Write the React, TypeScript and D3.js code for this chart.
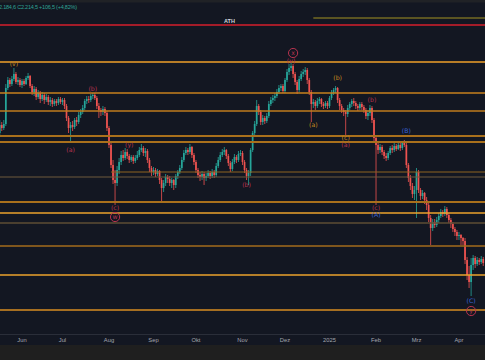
import React, { useEffect, useRef } from 'react';
import * as d3 from 'd3';

const W = 485;
const H = 360;

// daily bars [open, high, low, close], first bar Fri 2024-05-17, weekdays only
const candles: number[][] = [
  [2347,2360,2345,2355],[2355,2358,2349,2352],[2352,2360,2350,2356],[2356,2396,2354,2392],[2392,2403,2390,2400],
  [2400,2402,2393,2396],[2396,2404,2394,2401],[2401,2412,2399,2406],[2406,2408,2396,2398],[2398,2403,2395,2400],
  [2400,2402,2393,2395],[2395,2401,2392,2399],[2399,2401,2394,2396],[2396,2404,2395,2402],[2402,2407,2400,2404],
  [2404,2405,2392,2394],[2394,2396,2385,2388],[2388,2394,2384,2391],[2391,2393,2380,2383],[2383,2390,2381,2387],
  [2387,2389,2377,2381],[2381,2388,2379,2385],[2385,2387,2376,2380],[2380,2386,2378,2383],[2383,2385,2375,2378],
  [2378,2383,2374,2380],[2380,2382,2373,2376],[2376,2381,2374,2379],[2379,2381,2374,2377],[2377,2383,2375,2381],
  [2381,2383,2376,2378],[2378,2382,2375,2380],[2380,2382,2371,2374],[2374,2376,2359,2362],[2362,2364,2347,2352],
  [2352,2358,2337,2355],[2355,2359,2349,2353],[2353,2362,2351,2360],[2360,2363,2354,2358],[2358,2368,2356,2365],
  [2365,2371,2362,2368],[2368,2375,2366,2372],[2372,2381,2370,2379],[2379,2384,2376,2381],[2381,2384,2377,2380],
  [2380,2386,2378,2384],[2384,2387,2381,2385],[2385,2387,2380,2382],[2382,2384,2371,2374],[2374,2377,2362,2370],
  [2370,2372,2364,2368],[2368,2374,2365,2371],[2371,2373,2364,2367],[2367,2369,2349,2352],[2352,2354,2332,2335],
  [2335,2337,2312,2315],[2315,2320,2296,2300],[2300,2310,2275,2297],[2297,2314,2294,2310],[2310,2322,2306,2318],
  [2318,2329,2315,2325],[2325,2330,2319,2322],[2322,2332,2320,2328],[2328,2331,2321,2324],[2324,2326,2317,2320],
  [2320,2325,2318,2323],[2323,2325,2316,2319],[2319,2325,2317,2322],[2322,2329,2320,2325],[2325,2333,2323,2330],
  [2330,2336,2328,2332],[2332,2334,2324,2327],[2327,2332,2323,2329],[2329,2331,2317,2320],[2320,2322,2308,2312],
  [2312,2314,2304,2308],[2308,2313,2305,2310],[2310,2312,2303,2306],[2306,2311,2304,2309],[2309,2310,2296,2300],
  [2300,2302,2278,2292],[2292,2300,2288,2297],[2297,2306,2294,2303],[2303,2305,2297,2301],[2301,2304,2294,2297],
  [2297,2302,2292,2300],[2300,2301,2290,2295],[2295,2306,2292,2304],[2304,2310,2301,2308],[2308,2315,2306,2312],
  [2312,2323,2310,2320],[2320,2330,2318,2327],[2327,2333,2325,2330],[2330,2332,2325,2328],[2328,2336,2326,2333],
  [2333,2334,2322,2325],[2325,2327,2315,2318],[2318,2320,2307,2310],[2310,2312,2302,2305],[2305,2308,2299,2303],
  [2303,2309,2300,2306],[2306,2308,2295,2302],[2302,2307,2299,2304],[2304,2310,2302,2307],[2307,2309,2301,2304],
  [2304,2311,2302,2308],[2308,2310,2302,2305],[2305,2317,2303,2314],[2314,2323,2312,2320],[2320,2328,2318,2325],
  [2325,2331,2323,2328],[2328,2333,2325,2330],[2330,2331,2321,2324],[2324,2326,2314,2317],[2317,2319,2308,2311],
  [2311,2321,2309,2318],[2318,2326,2316,2323],[2323,2325,2317,2320],[2320,2329,2318,2326],[2326,2330,2324,2327],
  [2327,2329,2315,2318],[2318,2320,2307,2310],[2310,2312,2300,2304],[2304,2310,2295,2307],[2307,2332,2304,2330],
  [2330,2349,2328,2347],[2347,2359,2344,2356],[2356,2380,2354,2374],[2374,2376,2365,2368],[2368,2370,2355,2358],
  [2358,2365,2355,2362],[2362,2364,2356,2359],[2359,2367,2357,2364],[2364,2379,2362,2376],[2376,2383,2374,2380],
  [2380,2385,2377,2382],[2382,2387,2379,2384],[2384,2391,2382,2388],[2388,2395,2386,2392],[2392,2396,2389,2394],
  [2394,2396,2387,2389],[2389,2402,2387,2400],[2400,2411,2398,2408],[2408,2416,2405,2412],[2412,2418,2409,2414],
  [2414,2416,2402,2406],[2406,2408,2395,2398],[2398,2400,2386,2390],[2390,2404,2388,2401],[2401,2409,2399,2406],
  [2406,2411,2403,2408],[2408,2413,2405,2410],[2410,2412,2396,2400],[2400,2402,2385,2388],[2388,2390,2358,2376],
  [2376,2381,2372,2378],[2378,2380,2370,2374],[2374,2382,2372,2379],[2379,2383,2376,2381],[2381,2382,2373,2376],
  [2376,2378,2371,2374],[2374,2379,2372,2377],[2377,2379,2371,2374],[2374,2384,2372,2382],[2382,2390,2380,2387],
  [2387,2392,2385,2390],[2390,2394,2387,2392],[2392,2393,2377,2380],[2380,2382,2370,2374],[2374,2376,2367,2370],
  [2370,2372,2364,2368],[2368,2370,2343,2366],[2366,2375,2363,2372],[2372,2378,2370,2376],[2376,2381,2373,2379],
  [2379,2382,2374,2377],[2377,2379,2371,2374],[2374,2376,2369,2372],[2372,2378,2370,2376],[2376,2378,2370,2373],
  [2373,2375,2367,2370],[2370,2372,2361,2364],[2364,2370,2360,2367],[2367,2375,2364,2372],[2372,2374,2357,2360],
  [2360,2362,2339,2342],[2342,2345,2275,2335],[2335,2338,2326,2330],[2330,2336,2327,2333],[2333,2335,2325,2328],
  [2328,2330,2321,2324],[2324,2327,2319,2322],[2322,2329,2320,2327],[2327,2334,2325,2332],[2332,2335,2327,2330],
  [2330,2337,2328,2334],[2334,2336,2329,2331],[2331,2338,2330,2335],[2335,2337,2329,2332],[2332,2339,2330,2337],
  [2337,2340,2333,2335],[2335,2337,2312,2315],[2315,2317,2298,2302],[2302,2305,2290,2294],[2294,2297,2282,2286],
  [2286,2294,2280,2290],[2290,2312,2262,2308],[2308,2310,2287,2290],[2290,2292,2280,2284],[2284,2290,2281,2287],
  [2287,2288,2276,2280],[2280,2283,2270,2275],[2275,2277,2258,2262],[2262,2265,2235,2252],[2252,2261,2249,2258],
  [2258,2261,2252,2255],[2255,2263,2253,2260],[2260,2267,2257,2264],[2264,2271,2262,2268],[2268,2270,2263,2266],
  [2266,2274,2264,2271],[2271,2273,2262,2265],[2265,2267,2257,2260],[2260,2262,2252,2256],[2256,2258,2248,2251],
  [2251,2253,2244,2248],[2248,2250,2240,2244],[2244,2248,2240,2245],[2245,2246,2235,2242],[2242,2243,2235,2239],
  [2239,2242,2216,2220],[2220,2223,2200,2205],[2205,2214,2192,2198],[2198,2222,2184,2215],[2215,2225,2210,2222],
  [2222,2224,2212,2216],[2216,2223,2214,2220],[2220,2222,2215,2218],[2218,2224,2216,2221],[2221,2223,2214,2217],
];

const firstDay = new Date(2024, 4, 17);
const monthLabels = ['Jun', 'Jul', 'Aug', 'Sep', 'Okt', 'Nov', 'Dez', '2025', 'Feb', 'Mrz', 'Apr'];

// horizontal support / resistance levels
const levels = [2418, 2387, 2369, 2344, 2338, 2308, 2303, 2278, 2267, 2257, 2234, 2205, 2170];
const levelStart = [0, 0, 0, 0, 0, 55, 0, 0, 0, 0, 0, 0, 0]; // bar index where a level begins
const athLevel = 2455;
const prevHigh = 2462;
const prevHighStart = 155;

// elliott wave labels: bar index, price, text, degree
const waves: [number, number, string, string][] = [
  [7, 2416, '(v)', 'minute'],
  [35, 2330, '(a)', 'minor'],
  [46, 2391, '(b)', 'minor'],
  [57, 2272, '(c)', 'minor'],
  [57, 2263, 'w', 'circle'],
  [64, 2335, '(y)', 'minor'],
  [122, 2295, '(b)', 'minor'],
  [144, 2419, '(v)', 'minor'],
  [145, 2427, 'x', 'circle'],
  [155, 2355, '(a)', 'minute'],
  [167, 2402, '(b)', 'minute'],
  [171, 2342, '(c)', 'minute'],
  [171, 2335, '(a)', 'minor'],
  [184, 2380, '(b)', 'minor'],
  [186, 2272, '(c)', 'minor'],
  [186, 2265, '(A)', 'inter'],
  [201, 2349, '(B)', 'inter'],
  [233, 2179, '(C)', 'inter'],
  [233, 2169, 'y', 'circle'],
];

const header = '2.184,6  C2.214,5  +106,5 (+4,82%)';

const up = '#26a69a';
const down = '#ef5350';
const waveColor: Record<string, string> = {
  minor: '#b8334f', minute: '#c98a1e', inter: '#3a62d6', circle: '#b8334f',
};
const levelColor = ['#f0a02a', '#c9821e', '#c07c1e', '#a9701c', '#a9701c', '#8f6420', '#6e5a3c',
  '#a9701c', '#eda32c', '#5e4e34', '#a46c1c', '#eda32c', '#d98e22'];
const levelWidth = [1.5, 1.5, 1.5, 2, 2, 1, 1, 2, 1.5, 1.5, 1.5, 1.5, 1.5];

export default function App() {
  const ref = useRef<SVGSVGElement>(null);

  useEffect(() => {
    const svg = d3.select(ref.current);
    svg.selectAll('*').remove();

    const plotBottom = 334;
    const dates: Date[] = [];
    let d = firstDay;
    while (dates.length < candles.length) {
      if (d.getDay() !== 0 && d.getDay() !== 6) dates.push(d);
      d = d3.timeDay.offset(d, 1);
    }

    const x = d3.scaleLinear().domain([0, candles.length - 1]).range([-0.25, 483.25]);
    const y = d3.scaleLinear().domain([2480, 2146]).range([0, plotBottom]);
    const bw = 1.7;

    svg.append('rect').attr('width', W).attr('height', H).attr('fill', '#131722');
    svg.append('rect').attr('width', W).attr('height', 2.5).attr('fill', '#202226');
    svg.append('rect').attr('y', 345).attr('width', W).attr('height', 15).attr('fill', '#1f1f1f');
    svg.append('line').attr('x1', 0).attr('x2', W).attr('y1', 334.5).attr('y2', 334.5)
      .attr('stroke', '#2a2e39');

    const plot = svg.append('g');

    // candles
    const bar = plot.selectAll('g.c').data(candles).enter().append('g')
      .attr('class', 'c')
      .attr('fill', c => (c[3] >= c[0] ? up : down))
      .attr('stroke', c => (c[3] >= c[0] ? up : down));
    bar.append('line')
      .attr('x1', (c, i) => x(i)).attr('x2', (c, i) => x(i))
      .attr('y1', c => y(c[1])).attr('y2', c => y(c[2]))
      .attr('stroke-width', 0.8);
    bar.append('rect')
      .attr('x', (c, i) => x(i) - bw / 2)
      .attr('width', bw)
      .attr('y', c => y(Math.max(c[0], c[3])))
      .attr('height', c => Math.max(0.8, Math.abs(y(c[0]) - y(c[3]))))
      .attr('stroke', 'none');

    // levels
    plot.selectAll('line.lvl').data(levels).enter().append('line')
      .attr('class', 'lvl')
      .attr('x1', (p, i) => x(levelStart[i]) - (levelStart[i] ? 0 : 1))
      .attr('x2', W)
      .attr('y1', p => y(p)).attr('y2', p => y(p))
      .attr('stroke', (p, i) => levelColor[i])
      .attr('stroke-width', (p, i) => levelWidth[i]);

    plot.append('line').attr('x1', 0).attr('x2', W)
      .attr('y1', y(athLevel)).attr('y2', y(athLevel))
      .attr('stroke', '#d61f2c').attr('stroke-width', 1.5);
    plot.append('line').attr('x1', x(prevHighStart)).attr('x2', W)
      .attr('y1', y(prevHigh)).attr('y2', y(prevHigh))
      .attr('stroke', '#a39322').attr('stroke-width', 1);
    plot.append('text').attr('x', 229.5).attr('y', y(athLevel) - 2.5)
      .attr('text-anchor', 'middle').attr('font-size', 5.5).attr('font-weight', 'bold')
      .attr('fill', '#d1d4dc').attr('font-family', 'Liberation Sans, sans-serif').text('ATH');

    // wave labels
    const wl = plot.selectAll('g.w').data(waves).enter().append('g')
      .attr('class', 'w')
      .attr('transform', w => `translate(${x(w[0])},${y(w[1])})`);
    wl.filter(w => w[3] === 'circle').append('circle')
      .attr('r', 4.6).attr('fill', 'none')
      .attr('stroke', w => waveColor[w[3]]).attr('stroke-width', 1);
    wl.append('text')
      .attr('text-anchor', 'middle').attr('dy', '0.35em')
      .attr('font-size', w => (w[3] === 'circle' ? 6.2 : 6.2))
      .attr('font-family', 'DejaVu Sans, sans-serif')
      .attr('fill', w => waveColor[w[3]])
      .text(w => w[2]);

    // header values
    svg.append('text').attr('x', -1).attr('y', 9).attr('font-size', 5.5)
      .attr('font-family', 'Liberation Sans, sans-serif').attr('fill', '#2fa394')
      .attr('textLength', 78).text(header);

    // month axis
    const ticks: number[] = [];
    dates.forEach((dt, i) => {
      if (i > 0 && dt.getMonth() !== dates[i - 1].getMonth()) ticks.push(i);
    });
    svg.selectAll('text.m').data(ticks).enter().append('text')
      .attr('class', 'm')
      .attr('x', i => x(i)).attr('y', 342)
      .attr('text-anchor', 'middle').attr('font-size', 5.8)
      .attr('font-family', 'Liberation Sans, sans-serif').attr('fill', '#a3a6af')
      .text((i, k) => monthLabels[k]);
  }, []);

  return (
    <svg ref={ref} width={W} height={H} style={{ position: 'absolute', left: 0, top: 0 }} />
  );
}
